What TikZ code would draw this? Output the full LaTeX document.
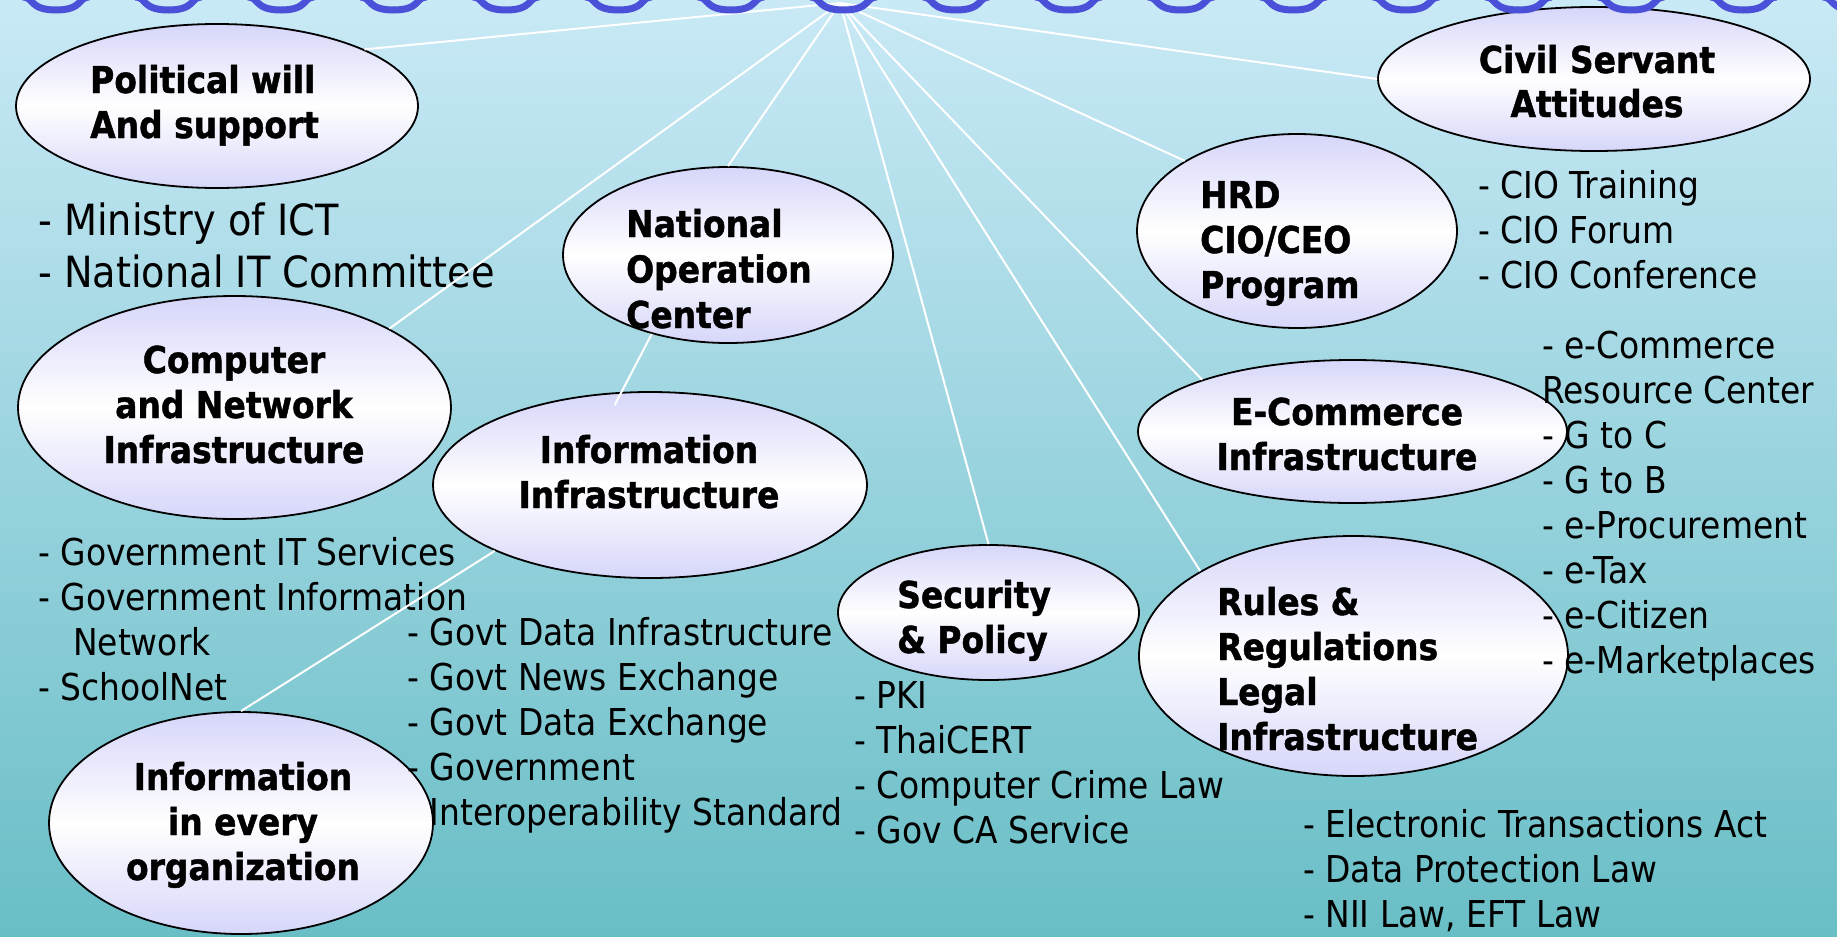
\documentclass[tikz,border=0pt]{standalone}
\usepackage{fontspec}
\setmainfont{DejaVu Sans}[FakeStretch=0.89, BoldFeatures={FakeBold=1.2}]
\usetikzlibrary{shapes.geometric}

\definecolor{skytop}{RGB}{201,233,246}
\definecolor{skybot}{RGB}{105,190,198}
\definecolor{lav}{RGB}{214,214,250}
\definecolor{ringblue}{RGB}{74,80,216}

% stacked lines with a fixed baseline distance; the box baseline is the first line
\newcommand\txtl[2]{\vtop{\baselineskip=#1\relax\lineskiplimit=-1000pt\halign{##\hfil\cr#2\crcr}}}
\newcommand\txtc[2]{\vtop{\baselineskip=#1\relax\lineskiplimit=-1000pt\halign{\hfil##\hfil\cr#2\crcr}}}

\tikzset{
  bubble/.style={ellipse, draw=black, line width=1.8pt, top color=lav, bottom color=lav,
                 middle color=white, inner sep=0pt},
  head/.style={inner sep=0pt, font=\bfseries\fontsize{37pt}{45pt}\selectfont},
  list/.style={inner sep=0pt, font=\fontsize{37pt}{45pt}\selectfont},
  conn/.style={draw=white, line width=2pt},
  ring/.style={draw=ringblue, line width=7pt}
}

\begin{document}
\begin{tikzpicture}[x=1pt,y=-1pt]
\useasboundingbox (0,0) rectangle (1837,937);
\clip (0,0) rectangle (1837,937);
\shade[top color=skytop, bottom color=skybot] (0,0) rectangle (1837,937);

% topic bubbles
\node[bubble, minimum width=402pt, minimum height=164pt] (pol)  at (217,106)      {};
\node[bubble, minimum width=432pt, minimum height=144pt] (civ)  at (1594,79)      {};
\node[bubble, minimum width=330pt, minimum height=176pt] (noc)  at (728,255)      {};
\node[bubble, minimum width=320pt, minimum height=194pt] (hrd)  at (1297,231)     {};
\node[bubble, minimum width=433pt, minimum height=223pt] (cni)  at (234.5,407.5)  {};
\node[bubble, minimum width=434pt, minimum height=186pt] (info) at (650,485)      {};
\node[bubble, minimum width=429pt, minimum height=143pt] (eco)  at (1352.5,431.5) {};
\node[bubble, minimum width=301pt, minimum height=135pt] (sec)  at (988.5,612.5)  {};
\node[bubble, minimum width=429pt, minimum height=240pt] (rul)  at (1353.5,656)   {};
\node[bubble, minimum width=384pt, minimum height=222pt] (org)  at (241,823)      {};

% bubble titles
\node[head, anchor=base west] (polT)  at (90,93)    {\txtl{45pt}{Political will\cr And support}};
\node[head, anchor=base]      (civT)  at (1597,73)  {\txtc{44pt}{Civil Servant\cr Attitudes}};
\node[head, anchor=base west] (nocT)  at (626,237)  {\txtl{45.5pt}{National\cr Operation\cr Center}};
\node[head, anchor=base west] (hrdT)  at (1200,208) {\txtl{45pt}{HRD\cr CIO/CEO\cr Program}};
\node[head, anchor=base]      (cniT)  at (234,373)  {\txtc{45pt}{Computer\cr and Network\cr Infrastructure}};
\node[head, anchor=base]      (infoT) at (649,463)  {\txtc{45pt}{Information\cr Infrastructure}};
\node[head, anchor=base]      (ecoT)  at (1347,425) {\txtc{45pt}{E-Commerce\cr Infrastructure}};
\node[head, anchor=base west] (secT)  at (897,608)  {\txtl{45pt}{Security\cr \& Policy}};
\node[head, anchor=base west] (rulT)  at (1217,615) {\txtl{45pt}{Rules \&\cr Regulations\cr Legal\cr Infrastructure}};
\node[head, anchor=base]      (orgT)  at (243,790)  {\txtc{45pt}{Information\cr in every\cr organization}};

% item lists
\node[list, anchor=base west, font=\fontsize{43pt}{52pt}\selectfont] (polL) at (38,235)
  {\txtl{52pt}{- Ministry of ICT\cr - National IT Committee}};
\node[list, anchor=base west] (hrdL) at (1478,198)
  {\txtl{45pt}{- CIO Training\cr - CIO Forum\cr - CIO Conference}};
\node[list, anchor=base west] (ecoL) at (1542,358)
  {\txtl{45pt}{- e-Commerce\cr Resource Center\cr - G to C\cr - G to B\cr - e-Procurement\cr - e-Tax\cr - e-Citizen\cr - e-Marketplaces}};
\node[list, anchor=base west] (cniL) at (38,565)
  {\txtl{45pt}{- Government IT Services\cr - Government Information\cr \hskip35pt Network\cr - SchoolNet}};
\node[list, anchor=base west] (infoL) at (407,645)
  {\txtl{45pt}{- Govt Data Infrastructure\cr - Govt News Exchange\cr - Govt Data Exchange\cr - Government\cr \hphantom{- }Interoperability Standard}};
\node[list, anchor=base west] (secL) at (854,708)
  {\txtl{45pt}{- PKI\cr - ThaiCERT\cr - Computer Crime Law\cr - Gov CA Service}};
\node[list, anchor=base west] (rulL) at (1303,837)
  {\txtl{45pt}{- Electronic Transactions Act\cr - Data Protection Law\cr - NII Law, EFT Law}};

% connectors fanning out from the binding ring
\coordinate (hub) at (840,3);
\draw[conn] (hub) -- (pol.21.6);
\draw[conn] (hub) -- (cni.27.5);
\draw[conn] (hub) -- (noc.90);
\draw[conn] (hub) -- (sec.90);
\draw[conn] (hub) -- (rul.151.3);
\draw[conn] (hub) -- (eco.161.6);
\draw[conn] (hub) -- (hrd.148.4);
\draw[conn] (hub) -- (civ.180);
\draw[conn, shorten >=-15pt] (noc.226.8) -- (info.107);
\draw[conn] (info.203.3) -- (org.90);

% binding rings along the top edge
\foreach \k in {0,...,16} {
  \pgfmathsetmacro\cx{56+112.5*\k}
  \draw[ring] (\cx-33,-3) .. controls (\cx-22,-3) and (\cx-27,10) .. (\cx,10)
              .. controls (\cx+27,10) and (\cx+22,-3) .. (\cx+33,-3);
}
\end{tikzpicture}
\end{document}
